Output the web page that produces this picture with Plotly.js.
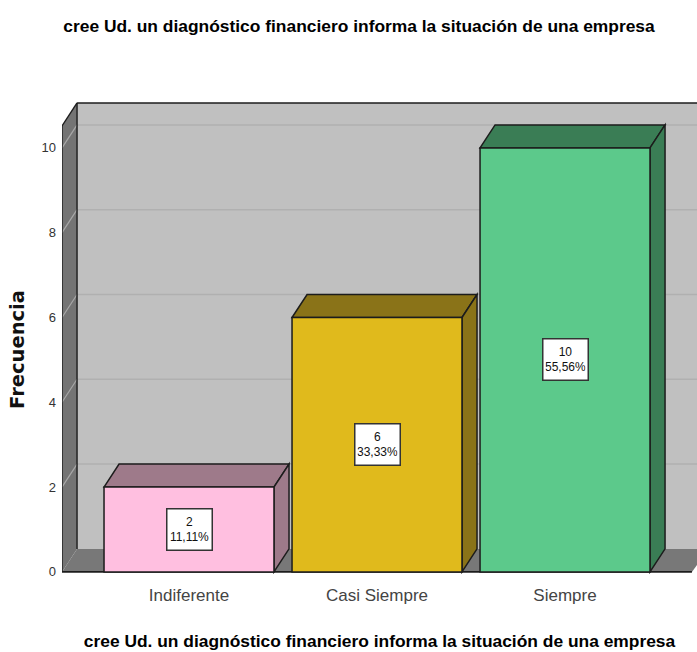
<!DOCTYPE html>
<html>
<head>
<meta charset="utf-8">
<script src="https://cdn.plot.ly/plotly-3.0.1.min.js"></script>
<style>html,body{margin:0;padding:0;background:#fff;overflow:hidden}#chart{width:697px;height:652px}</style>
</head>
<body>
<div id="chart"></div>
<script>
const titleText = "cree Ud. un diagnóstico financiero informa la situación de una empresa";
const categories = ["Indiferente", "Casi Siempre", "Siempre"];
const frequencies = [2, 6, 10];
const percents = ["11,11%", "33,33%", "55,56%"];
const yTicks = [0, 2, 4, 6, 8, 10];
const frontColors = ["#FFBFE0", "#E0BA1C", "#5CC98B"];
const sideColors = ["#9E7A8A", "#8A7318", "#3A7D55"];

const barWidth = 0.904;
const depthX = 0.08;     // depth of the pseudo-3D box in category units
const depthY = 0.5425;   // depth of the pseudo-3D box in frequency units
const xMin = -0.6755, xMax = 2.702, yMin = -0.05, yMax = 11.13;
const wallTop = 11.06;
const floorEnd = 2.675;
const edge = "#1c1c1c";

function poly(pts, fill, lineColor, lineWidth) {
  const path = pts.map((p, i) => (i ? "L" : "M") + p[0] + "," + p[1]).join(" ") + " Z";
  return {type: "path", xref: "x", yref: "y", layer: "below", path, fillcolor: fill,
          line: {color: lineColor || fill, width: lineWidth === undefined ? 0 : lineWidth}};
}
function seg(x0, y0, x1, y1, color, width) {
  return {type: "line", xref: "x", yref: "y", layer: "below", x0, y0, x1, y1, line: {color, width}};
}

const shapes = [];
// back wall
shapes.push(poly([[xMin + depthX, depthY], [xMax, depthY], [xMax, wallTop], [xMin + depthX, wallTop]], "#C0C0C0"));
// floor
shapes.push(poly([[xMin, 0], [xMin + depthX, depthY], [xMax, depthY], [xMax, 0.16], [floorEnd, 0]], "#787878"));
// left wall
shapes.push(poly([[xMin, 0], [xMin + depthX, depthY], [xMin + depthX, wallTop], [xMin, wallTop - depthY]], "#747474"));
// grid lines on walls
yTicks.forEach(t => {
  if (t > 0) {
    shapes.push(seg(xMin + depthX, t + depthY, xMax, t + depthY, "#B0B0B0", 1.5));
    shapes.push(seg(xMin, t, xMin + depthX, t + depthY, "#A8A8A8", 1.2));
  }
});
// box outlines
shapes.push(seg(xMin + depthX, wallTop, xMax, wallTop, edge, 1.6));
shapes.push(seg(xMin + depthX, depthY, xMin + depthX, wallTop, edge, 1.4));
shapes.push(seg(xMin, 0, xMin, wallTop - depthY, edge, 1.4));
shapes.push(seg(xMin, wallTop - depthY, xMin + depthX, wallTop, edge, 1.4));
shapes.push(seg(xMin, 0, floorEnd, 0, edge, 1.6));
// bar depth faces
frequencies.forEach((v, i) => {
  const l = i - barWidth / 2, r = i + barWidth / 2;
  shapes.push(poly([[l, v], [l + depthX, v + depthY], [r + depthX, v + depthY], [r, v]], sideColors[i], edge, 1.5));
  shapes.push(poly([[r, 0], [r + depthX, depthY], [r + depthX, v + depthY], [r, v]], sideColors[i], edge, 1.5));
});

const barTrace = {
  type: "bar",
  x: categories.map((c, i) => i),
  y: frequencies,
  width: barWidth,
  marker: {color: frontColors, line: {color: edge, width: 1.5}},
  hoverinfo: "skip"
};

const annotations = frequencies.map((v, i) => ({
  xref: "x", yref: "y", x: i, y: v / 2,
  text: v + "<br>" + percents[i],
  showarrow: false,
  bgcolor: "#FFFFFF",
  bordercolor: "#333333",
  borderwidth: 1.5,
  borderpad: 2,
  width: 40,
  height: 36,
  font: {family: "Liberation Sans", size: 12, color: "#111111"}
}));
annotations.push({
  xref: "paper", yref: "paper", xanchor: "center", yanchor: "middle",
  x: (18 - 62) / 635, y: (652 - 350 - 77.88) / (652 - 100 - 77.88),
  text: "<b>Frecuencia</b>", textangle: -90, showarrow: false,
  font: {family: "DejaVu Sans", size: 19.5, color: "#111111"}
});

const layout = {
  width: 697, height: 652,
  paper_bgcolor: "#FFFFFF", plot_bgcolor: "#FFFFFF",
  margin: {l: 62, r: 0, t: 100, b: 77.88, pad: 0},
  showlegend: false,
  title: {
    text: "<b>" + titleText + "</b>",
    x: (359 - 62) / 635, xanchor: "center", xref: "paper",
    y: 1 - 26 / 652, yanchor: "middle", yref: "container",
    font: {family: "Liberation Sans", size: 17.4, color: "#000000"}
  },
  xaxis: {
    range: [xMin, xMax],
    tickmode: "array", tickvals: categories.map((c, i) => i), ticktext: categories,
    ticks: "", showgrid: false, zeroline: false, showline: false, fixedrange: true,
    ticklabelstandoff: 9,
    tickfont: {family: "Liberation Sans", size: 17, color: "#444444"},
    title: {text: "<b>" + titleText + "</b>", standoff: 30,
            font: {family: "Liberation Sans", size: 17.4, color: "#000000"}}
  },
  yaxis: {
    range: [yMin, yMax],
    tickmode: "array", tickvals: yTicks, ticktext: yTicks.map(String),
    ticks: "", showgrid: false, zeroline: false, showline: false, fixedrange: true,
    ticklabelstandoff: 5,
    tickfont: {family: "Liberation Sans", size: 13, color: "#333333"}
  },
  shapes,
  annotations
};

Plotly.newPlot("chart", [barTrace], layout, {displayModeBar: false, staticPlot: true});
</script>
</body>
</html>
